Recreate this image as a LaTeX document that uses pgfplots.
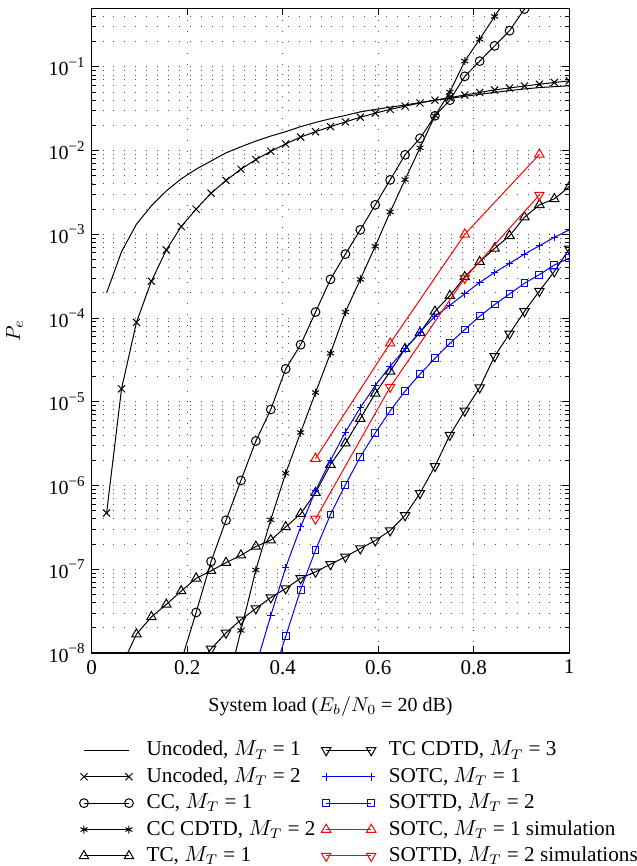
\documentclass[border=0pt]{standalone}
\usepackage{fontspec}
\setmainfont{Liberation Serif}
\usepackage{pgfplots}
\pgfplotsset{compat=1.18}

% tick label 10^{-n} set in the text font
\newcommand{\tp}[1]{10\raisebox{0.42em}{\fontsize{7.5}{8}\selectfont −#1}}

\begin{document}
\begin{tikzpicture}
\begin{semilogyaxis}[
    scale only axis,
    width=238.8pt, height=322.4pt,
    xmin=0, xmax=1,
    ymin=1e-8, ymax=0.5,
    xtick={0,0.2,0.4,0.6,0.8,1},
    xticklabels={0,0.2,0.4,0.6,0.8,1},
    ytick={1e-8,1e-7,1e-6,1e-5,1e-4,1e-3,1e-2,1e-1},
    yticklabels={\tp{8},\tp{7},\tp{6},\tp{5},\tp{4},\tp{3},\tp{2},\tp{1}},
    minor ytick={2e-8,3e-8,4e-8,5e-8,6e-8,7e-8,8e-8,9e-8,
                 2e-7,3e-7,4e-7,5e-7,6e-7,7e-7,8e-7,9e-7,
                 2e-6,3e-6,4e-6,5e-6,6e-6,7e-6,8e-6,9e-6,
                 2e-5,3e-5,4e-5,5e-5,6e-5,7e-5,8e-5,9e-5,
                 2e-4,3e-4,4e-4,5e-4,6e-4,7e-4,8e-4,9e-4,
                 2e-3,3e-3,4e-3,5e-3,6e-3,7e-3,8e-3,9e-3,
                 2e-2,3e-2,4e-2,5e-2,6e-2,7e-2,8e-2,9e-2,
                 2e-1,3e-1,4e-1},
    xticklabel style={font=\fontsize{10.5}{12}\selectfont},
    yticklabel style={font=\fontsize{10}{11}\selectfont},
    tick align=inside,
    major tick length=3.5pt, minor tick length=2pt,
    every tick/.style={black, line width=0.4pt},
    xmajorgrids, ymajorgrids, yminorgrids,
    major grid style={black!70, line width=0.45pt, dash pattern=on 0.45pt off 5pt},
    minor grid style={black!70, line width=0.45pt, dash pattern=on 0.45pt off 5pt},
    axis line style={line width=0.6pt},
    xlabel={System load ($E_b/N_0$ = 20 dB)},
    xlabel style={yshift=-4pt},
    ylabel={$P_e$},
    ylabel shift=6pt,
    clip marker paths=true,
    every axis plot/.append style={line width=0.5pt, mark options={solid, line width=0.5pt}},
    legend image code/.code={\draw[#1] plot coordinates {(0pt,0pt) (22.5pt,0pt)};},
    transpose legend,
    legend columns=5,
    legend cell align=left,
    legend style={draw=none, fill=none, inner sep=0pt,
        at={(-0.0268,-0.1325)}, anchor=north west,
        font=\fontsize{10.6}{12}\selectfont,
        nodes={inner sep=1pt, text height=7.5pt, text depth=2pt},
        row sep=1.7pt,
        /tikz/every odd column/.append style={column sep=5.5pt},
        /tikz/every even column/.append style={column sep=2pt}},
]

% Uncoded, M_T = 1
\addplot[black, no marks] coordinates {
(0.03125,2.0e-4) (0.0625,6.2e-4) (0.09375,1.32e-3) (0.125,2.19e-3) (0.15625,3.3e-3)
(0.1875,4.6e-3) (0.21875,6.0e-3) (0.25,7.5e-3) (0.28125,9.4e-3) (0.3125,1.11e-2)
(0.34375,1.3e-2) (0.375,1.49e-2) (0.40625,1.68e-2) (0.4375,1.93e-2) (0.46875,2.17e-2)
(0.5,2.4e-2) (0.53125,2.63e-2) (0.5625,2.9e-2) (0.59375,3.1e-2) (0.625,3.3e-2)
(0.65625,3.5e-2) (0.6875,3.75e-2) (0.71875,4.0e-2) (0.75,4.2e-2) (0.78125,4.45e-2)
(0.8125,4.7e-2) (0.84375,4.95e-2) (0.875,5.2e-2) (0.90625,5.45e-2) (0.9375,5.65e-2)
(0.96875,5.8e-2) (1.0,5.95e-2)
};
\addlegendentry{Uncoded, $M_T$ = 1}

% Uncoded, M_T = 2
\addplot[black, mark=x, mark size=2.5pt] coordinates {
(0.03125,4.7e-7) (0.0625,1.43e-5) (0.09375,8.9e-5) (0.125,2.75e-4) (0.15625,6.5e-4)
(0.1875,1.24e-3) (0.21875,2.0e-3) (0.25,3.1e-3) (0.28125,4.4e-3) (0.3125,6.0e-3)
(0.34375,7.8e-3) (0.375,9.8e-3) (0.40625,1.2e-2) (0.4375,1.45e-2) (0.46875,1.68e-2)
(0.5,1.93e-2) (0.53125,2.2e-2) (0.5625,2.5e-2) (0.59375,2.8e-2) (0.625,3.1e-2)
(0.65625,3.4e-2) (0.6875,3.7e-2) (0.71875,4.0e-2) (0.75,4.3e-2) (0.78125,4.6e-2)
(0.8125,4.95e-2) (0.84375,5.3e-2) (0.875,5.6e-2) (0.90625,5.9e-2) (0.9375,6.2e-2)
(0.96875,6.5e-2) (1.0,6.8e-2)
};
\addlegendentry{Uncoded, $M_T$ = 2}

% CC, M_T = 1
\addplot[black, mark=o, mark size=2.2pt] coordinates {
(0.1875,8e-9) (0.21875,3.05e-8) (0.25,1.24e-7) (0.28125,3.85e-7) (0.3125,1.15e-6)
(0.34375,3.4e-6) (0.375,8.1e-6) (0.40625,2.47e-5) (0.4375,4.8e-5) (0.46875,1.18e-4)
(0.5,2.9e-4) (0.53125,5.8e-4) (0.5625,1.13e-3) (0.59375,2.25e-3) (0.625,4.47e-3)
(0.65625,8.9e-3) (0.6875,1.4e-2) (0.71875,2.6e-2) (0.75,4.0e-2) (0.78125,7.7e-2)
(0.8125,0.117) (0.84375,0.178) (0.875,0.27) (0.90625,0.49) (0.9375,0.8)
};
\addlegendentry{CC, $M_T$ = 1}

% CC CDTD, M_T = 2
\addplot[black, mark=asterisk, mark size=2pt] coordinates {
(0.28125,3.5e-9) (0.3125,1.86e-8) (0.34375,9.8e-8) (0.375,3.9e-7) (0.40625,1.4e-6)
(0.4375,4.3e-6) (0.46875,1.29e-5) (0.5,3.8e-5) (0.53125,1.18e-4) (0.5625,2.9e-4)
(0.59375,7.2e-4) (0.625,1.85e-3) (0.65625,4.5e-3) (0.6875,1.08e-2) (0.71875,2.6e-2)
(0.75,5.0e-2) (0.78125,0.117) (0.8125,0.214) (0.84375,0.40) (0.875,0.75)
};
\addlegendentry{CC CDTD, $M_T$ = 2}

% TC, M_T = 1
\addplot[black, mark=triangle, mark size=2.7pt] coordinates {
(0.0625,7e-9) (0.09375,1.68e-8) (0.125,2.7e-8) (0.15625,3.8e-8) (0.1875,5.5e-8)
(0.21875,7.8e-8) (0.25,9.6e-8) (0.28125,1.2e-7) (0.3125,1.47e-7) (0.34375,1.87e-7)
(0.375,2.23e-7) (0.40625,3.2e-7) (0.4375,4.6e-7) (0.46875,8.2e-7) (0.5,1.78e-6)
(0.53125,3.2e-6) (0.5625,6.3e-6) (0.59375,1.26e-5) (0.625,2.3e-5) (0.65625,4.3e-5)
(0.6875,6.7e-5) (0.71875,1.2e-4) (0.75,1.85e-4) (0.78125,3.1e-4) (0.8125,4.7e-4)
(0.84375,6.8e-4) (0.875,9.6e-4) (0.90625,1.6e-3) (0.9375,2.25e-3) (0.96875,2.65e-3)
(1.0,3.7e-3)
};
\addlegendentry{TC, $M_T$ = 1}

% TC CDTD, M_T = 3
\addplot[black, mark=triangle, mark size=2.7pt, mark options={rotate=180}] coordinates {
(0.21875,7e-9) (0.25,1.12e-8) (0.28125,1.74e-8) (0.3125,2.5e-8) (0.34375,3.4e-8)
(0.375,4.6e-8) (0.40625,5.9e-8) (0.4375,7.8e-8) (0.46875,9.3e-8) (0.5,1.15e-7)
(0.53125,1.41e-7) (0.5625,1.77e-7) (0.59375,2.2e-7) (0.625,2.9e-7) (0.65625,4.4e-7)
(0.6875,8.1e-7) (0.71875,1.7e-6) (0.75,4.0e-6) (0.78125,7.8e-6) (0.8125,1.48e-5)
(0.84375,3.5e-5) (0.875,6.5e-5) (0.90625,1.2e-4) (0.9375,2.1e-4) (0.96875,3.6e-4)
(1.0,6.7e-4)
};
\addlegendentry{TC CDTD, $M_T$ = 3}

% SOTC, M_T = 1
\addplot[blue, mark=+, mark size=1.9pt] coordinates {
(0.34375,7e-9) (0.375,2.8e-8) (0.40625,1.05e-7) (0.4375,3.2e-7) (0.46875,8.7e-7)
(0.5,2.0e-6) (0.53125,4.35e-6) (0.5625,8.5e-6) (0.59375,1.56e-5) (0.625,2.66e-5)
(0.65625,4.3e-5) (0.6875,6.8e-5) (0.71875,1.05e-4) (0.75,1.42e-4) (0.78125,1.95e-4)
(0.8125,2.66e-4) (0.84375,3.5e-4) (0.875,4.5e-4) (0.90625,5.8e-4) (0.9375,7.3e-4)
(0.96875,9.2e-4) (1.0,1.13e-3)
};
\addlegendentry{SOTC, $M_T$ = 1}

% SOTTD, M_T = 2
\addplot[blue, mark=square, mark size=1.7pt] coordinates {
(0.375,4.4e-9) (0.40625,1.58e-8) (0.4375,5.7e-8) (0.46875,1.7e-7) (0.5,4.5e-7)
(0.53125,1.02e-6) (0.5625,2.2e-6) (0.59375,4.25e-6) (0.625,7.8e-6) (0.65625,1.34e-5)
(0.6875,2.14e-5) (0.71875,3.3e-5) (0.75,5.0e-5) (0.78125,7.3e-5) (0.8125,1.05e-4)
(0.84375,1.45e-4) (0.875,1.94e-4) (0.90625,2.6e-4) (0.9375,3.3e-4) (0.96875,4.3e-4)
(1.0,5.2e-4)
};
\addlegendentry{SOTTD, $M_T$ = 2}

% SOTC, M_T = 1 simulation
\addplot[red, mark=triangle, mark size=2.7pt] coordinates {
(0.46875,2.1e-6) (0.625,5.0e-5) (0.78125,1.0e-3) (0.9375,9.0e-3)
};
\addlegendentry{SOTC, $M_T$ = 1 simulation}

% SOTTD, M_T = 2 simulations
\addplot[red, mark=triangle, mark size=2.7pt, mark options={rotate=180}] coordinates {
(0.46875,4.0e-7) (0.625,1.5e-5) (0.78125,3.0e-4) (0.9375,2.95e-3)
};
\addlegendentry{SOTTD, $M_T$ = 2 simulations}

\end{semilogyaxis}
\pgfresetboundingbox
\path ([xshift=-45.85pt,yshift=4.15pt]current axis.north west)
    rectangle ([xshift=33.85pt,yshift=-106.5pt]current axis.south east);
\end{tikzpicture}
\end{document}
